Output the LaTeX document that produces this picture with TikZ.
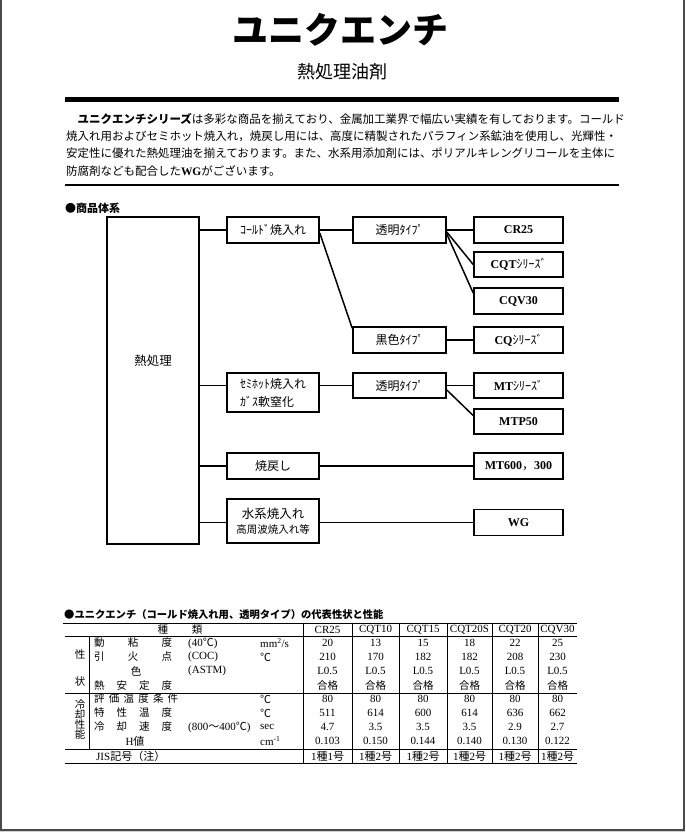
\documentclass[tikz,border=0pt]{standalone}
\usepackage{fontspec}
\setmainfont{Liberation Serif}
\newfontfamily\jp{Noto Sans CJK JP}
\usepackage{tikz}
\definecolor{framegray}{HTML}{4A4A4A}
\definecolor{pageblue}{HTML}{C9D3E0}

\begin{document}
\begin{tikzpicture}[x=1pt, y=-1pt,
    box/.style={draw, line width=1.6pt, inner sep=0pt, minimum width=92pt, minimum height=26pt, align=center, font=\jp\fontsize{12}{15}\selectfont},
    prod/.style={box, minimum width=89pt, font=\bfseries\fontsize{12}{14}\selectfont},
    link/.style={line width=1.5pt},
    rule/.style={line width=1pt},
    cell/.style={inner sep=0pt, font=\fontsize{11}{12}\selectfont},
    jcell/.style={cell, font=\jp\fontsize{10.5}{12}\selectfont}]
    % Page
    \useasboundingbox (0,0) rectangle (685,832);
    \fill[pageblue] (0,830) rectangle (685,832);
    \draw[line width=2pt, framegray] (1,0) -- (1,830) -- (683.5,830) -- (683.5,0);

    % Heading
    \node[font=\jp\bfseries\fontsize{36}{40}\selectfont] (title) at (340,30) {ユニクエンチ};
    \node[font=\jp\fontsize{18}{20}\selectfont] (subtitle) at (342,72) {熱処理油剤};
    \fill (65,97.5) rectangle (619,102.5);

    % Introduction
    \node[anchor=west, inner sep=0pt, font=\jp\fontsize{11.48}{14}\selectfont] (p1) at (66,119) {　{\bfseries ユニクエンチシリーズ}は多彩な商品を揃えており、金属加工業界で幅広い実績を有しております。コールド};
    \node[anchor=west, inner sep=0pt, font=\jp\fontsize{11.48}{14}\selectfont] (p2) at (66,136) {焼入れ用およびセミホット焼入れ，焼戻し用には、高度に精製されたパラフィン系鉱油を使用し、光輝性・};
    \node[anchor=west, inner sep=0pt, font=\jp\fontsize{11.48}{14}\selectfont] (p3) at (66,153.5) {安定性に優れた熱処理油を揃えております。また、水系用添加剤には、ポリアルキレングリコールを主体に};
    \node[anchor=west, inner sep=0pt, font=\jp\fontsize{11.48}{14}\selectfont] (p4) at (66,171.5) {防腐剤なども配合した{\rmfamily\bfseries WG}がございます。};
    \draw[line width=1.5pt] (65,185) -- (619,185);

    % Product tree
    \node[anchor=west, inner sep=0pt, font=\jp\bfseries\fontsize{11}{12}\selectfont] (treehead) at (65,208) {●商品体系};
    \node[box, minimum height=327pt] (heat) at (153,380.5) {};
    \node[font=\jp\fontsize{12.5}{14}\selectfont] (heatlbl) at (153,361) {熱処理};
    \node[box] (cold) at (273,230) {ｺｰﾙﾄﾞ焼入れ};
    \node[box, minimum width=93pt] (clr1) at (399.5,230) {透明ﾀｲﾌﾟ};
    \node[prod] (cr25) at (518.5,230) {CR25};
    \node[prod, minimum height=25pt] (cqt) at (518.5,264.5) {CQT{\jp\mdseries ｼﾘｰｽﾞ}};
    \node[prod] (cqv) at (518.5,301) {CQV30};
    \node[box, minimum width=93pt] (blk) at (399.5,340) {黒色ﾀｲﾌﾟ};
    \node[prod] (cq) at (518.5,340) {CQ{\jp\mdseries ｼﾘｰｽﾞ}};
    \node[box, minimum height=39pt, align=left, font=\jp\fontsize{12}{18}\selectfont] (semi) at (273,392.5) {ｾﾐﾎｯﾄ焼入れ\\ｶﾞｽ軟窒化};
    \node[box, minimum width=93pt, minimum height=25pt] (clr2) at (399.5,385.5) {透明ﾀｲﾌﾟ};
    \node[prod, minimum height=25pt] (mt) at (518.5,385.5) {MT{\jp\mdseries ｼﾘｰｽﾞ}};
    \node[prod, minimum height=25pt] (mtp) at (518.5,421.5) {MTP50};
    \node[box] (temper) at (273,466) {焼戻し};
    \node[prod] (mt600) at (518.5,466) {MT600{\jp\mdseries ，}300};
    \node[box, minimum height=44pt, font=\jp\fontsize{12.5}{15}\selectfont] (water) at (273,521) {水系焼入れ\\{\fontsize{10.5}{15}\selectfont 高周波焼入れ等}};
    \node[prod] (wg) at (518.5,522.5) {WG};

    \draw[link] (heat.east |- cold.west) -- (cold.west);
    \draw[link] (cold.east) -- (clr1.west);
    \draw[link] (clr1.east) -- (cr25.west);
    \draw[link] ([yshift=-2pt]clr1.east) -- (cqt.west);
    \draw[link] ([yshift=-4pt]clr1.east) -- ([yshift=8pt]cqv.west);
    \draw[link] ([yshift=-3pt]cold.east) -- ([yshift=-2pt]blk.north west);
    \draw[link] (blk.east) -- (cq.west);
    \draw[link] (heat.east |- clr2.west) -- (semi.west |- clr2.west);
    \draw[link] (semi.east |- clr2.west) -- (clr2.west);
    \draw[link] (clr2.east) -- (mt.west);
    \draw[link] ([yshift=-4.5pt]clr2.east) -- ([yshift=6pt]mtp.west);
    \draw[link] (heat.east |- temper.west) -- (temper.west);
    \draw[link] (temper.east) -- (mt600.west);
    \draw[link] (heat.east |- wg.west) -- (water.west |- wg.west);
    \draw[link] (water.east |- wg.west) -- (wg.west);

    % Table
    \node[anchor=west, inner sep=0pt, font=\jp\bfseries\fontsize{10.3}{12}\selectfont] (tabhead) at (64,615) {●ユニクエンチ（コールド焼入れ用、透明タイプ）の代表性状と性能};
    \draw[rule] (63,623) -- (577,623);
    \foreach \y in {636,693,749,763}
        \draw[rule] (65,\y) -- (577,\y);
    \draw[rule] (89,636) -- (89,749);
    \foreach \x in {303,352,399,447,492,538}
        \draw[rule] (\x,623) -- (\x,763);

    \node[jcell] (kind) at (180,630) {\makebox[45pt]{種\hfill 類}};
    \node[jcell] (g1a) at (80,654) {性};
    \node[jcell] (g1b) at (80,681) {状};
    \node[jcell, align=center, font=\jp\fontsize{10.5}{10}\selectfont] (g2) at (80,720) {冷\\却\\性\\能};

    \node[jcell, anchor=west] (r1) at (94,643) {\makebox[78pt]{動\hfill 粘\hfill 度}};
    \node[jcell, anchor=west] (r2) at (94,657) {\makebox[78pt]{引\hfill 火\hfill 点}};
    \node[jcell] (r3) at (136,671) {色};
    \node[jcell, anchor=west] (r4) at (94,686) {\makebox[78pt]{熱\hfill 安\hfill 定\hfill 度}};
    \node[jcell, anchor=west] (r5) at (94,699) {\makebox[84pt]{評\hfill 価\hfill 温\hfill 度\hfill 条\hfill 件}};
    \node[jcell, anchor=west] (r6) at (94,713) {\makebox[78pt]{特\hfill 性\hfill 温\hfill 度}};
    \node[jcell, anchor=west] (r7) at (94,727) {\makebox[78pt]{冷\hfill 却\hfill 速\hfill 度}};
    \node[cell] (r8) at (135,741) {H{\jp 値}};
    \node[cell, anchor=west] (r9) at (96,756) {JIS{\jp 記号（注）}};

    \node[cell, anchor=west] (c1) at (188,643) {(40{\jp ℃})};
    \node[cell, anchor=west] (c2) at (188,657) {(COC)};
    \node[cell, anchor=west] (c3) at (188,671) {(ASTM)};
    \node[cell, anchor=west] (c7) at (188,727) {(800{\jp ～}400{\jp ℃})};

    \node[cell, anchor=west] (u1) at (260,643) {mm\textsuperscript{2}/s};
    \node[cell, anchor=west] (u2) at (260,657) {{\jp ℃}};
    \node[cell, anchor=west] (u5) at (260,699) {{\jp ℃}};
    \node[cell, anchor=west] (u6) at (260,713) {{\jp ℃}};
    \node[cell, anchor=west] (u7) at (260,727) {sec};
    \node[cell, anchor=west] (u8) at (260,741) {cm\textsuperscript{-1}};

    \foreach \x/\name/\va/\vb/\vc/\vd/\ve/\vf [count=\i] in
        {327.5/CR25/20/210/511/4.7/0.103/1, 375.5/CQT10/13/170/614/3.5/0.150/2,
         423/CQT15/15/182/600/3.5/0.144/2, 469.5/CQT20S/18/182/614/3.5/0.140/2,
         515/CQT20/22/208/636/2.9/0.130/2, 557.5/CQV30/25/230/662/2.7/0.122/2}{
        \node[cell] (h\i) at (\x,630) {\name};
        \node[cell] (a\i) at (\x,643) {\va};
        \node[cell] (b\i) at (\x,657) {\vb};
        \node[cell] (col\i) at (\x,671) {L0.5};
        \node[jcell] (ok\i) at (\x,686) {合格};
        \node[cell] (t\i) at (\x,699) {80};
        \node[cell] (s\i) at (\x,713) {\vc};
        \node[cell] (v\i) at (\x,727) {\vd};
        \node[cell] (hv\i) at (\x,741) {\ve};
        \node[cell] (jis\i) at (\x,756) {1{\jp 種}\vf{\jp 号}};
    }
\end{tikzpicture}
\end{document}
